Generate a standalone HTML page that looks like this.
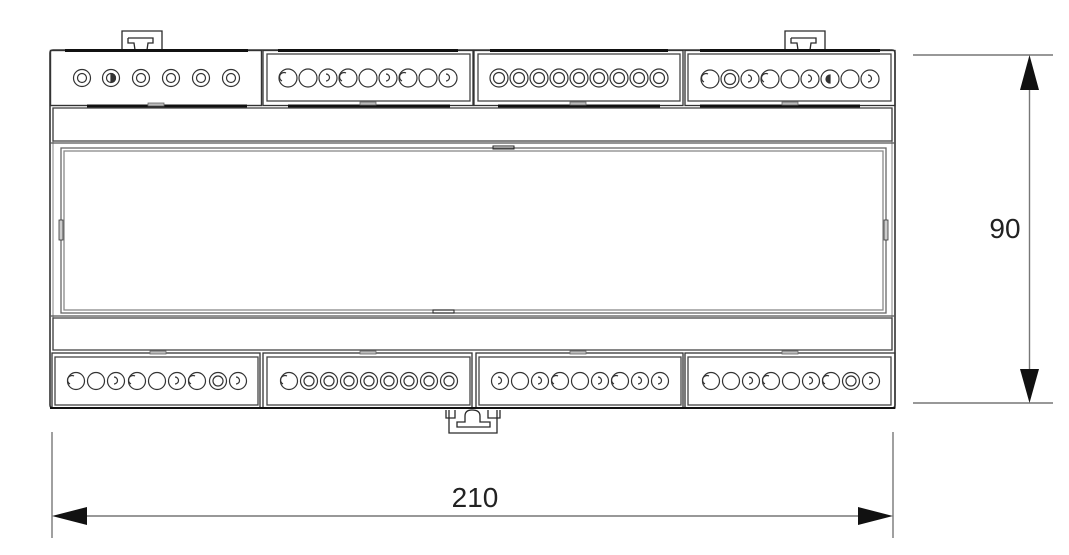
<!DOCTYPE html>
<html><head><meta charset="utf-8"><style>
html,body{margin:0;padding:0;background:#fff;}
svg{display:block;}
text{font-family:"Liberation Sans",Arial,sans-serif;fill:#222;}
</style></head><body>
<svg width="1069" height="555" viewBox="0 0 1069 555" xmlns="http://www.w3.org/2000/svg">
<g fill="none" stroke="#2a2a2a" stroke-width="1.3">
  <!-- top clips -->
  <path d="M122 50 V31 H162 V50"/>
  <path d="M128 38 H153 V43 H148 L147 50 M128 38 V43 H134 L135 50"/>
  <path d="M785 50 V31 H825 V50"/>
  <path d="M791 38 H816 V43 H811 L810 50 M791 38 V43 H797 L798 50"/>

  <!-- body outline -->
  <path d="M53 50 H892 Q895 50 895 53 V405 Q895 408 892 408 H53 Q50 408 50 405 V53 Q50 50 53 50 Z" stroke="#333" stroke-width="1.6"/>
  <path d="M53 108 V350 M892 108 V350" stroke="#999" stroke-width="1.2"/>

  <!-- top block 1 -->
  <rect x="50.5" y="50.5" width="211" height="55" stroke="#333" stroke-width="1.4"/>
  <line x1="65" y1="50.5" x2="248" y2="50.5" stroke="#111" stroke-width="3"/>
  <line x1="87" y1="106" x2="247" y2="106" stroke="#111" stroke-width="3"/>
  <rect x="148" y="103" width="16" height="3" fill="#bbb" stroke="#666" stroke-width="0.8"/>

  <!-- top block 2 -->
  <rect x="263" y="50.5" width="210" height="55" stroke="#333"/>
  <rect x="267" y="54" width="203" height="47" stroke="#444"/>
  <line x1="278" y1="50.5" x2="458" y2="50.5" stroke="#111" stroke-width="3"/>
  <line x1="288" y1="106" x2="450" y2="106" stroke="#111" stroke-width="3"/>
  <rect x="360" y="102" width="16" height="3" fill="#bbb" stroke="#666" stroke-width="0.8"/>

  <!-- top block 3 -->
  <rect x="474" y="50.5" width="209" height="55" stroke="#333"/>
  <rect x="478" y="54" width="202" height="47" stroke="#444"/>
  <line x1="490" y1="50.5" x2="668" y2="50.5" stroke="#111" stroke-width="3"/>
  <line x1="498" y1="106" x2="660" y2="106" stroke="#111" stroke-width="3"/>
  <rect x="570" y="102" width="16" height="3" fill="#bbb" stroke="#666" stroke-width="0.8"/>

  <!-- top block 4 -->
  <rect x="685" y="50.5" width="210" height="55" stroke="#333"/>
  <rect x="688" y="54" width="203" height="47" stroke="#444"/>
  <line x1="700" y1="50.5" x2="880" y2="50.5" stroke="#111" stroke-width="3"/>
  <line x1="700" y1="106" x2="860" y2="106" stroke="#111" stroke-width="3"/>
  <rect x="782" y="102" width="16" height="3" fill="#bbb" stroke="#666" stroke-width="0.8"/>

  <!-- band 1 -->
  <rect x="53" y="108" width="839" height="33" stroke="#444"/>
  <line x1="50" y1="143" x2="895" y2="143" stroke="#555"/>
  <!-- window -->
  <rect x="61" y="148" width="825" height="165" stroke="#666"/>
  <rect x="64" y="151" width="819" height="159" stroke="#888"/>
  <rect x="493" y="146" width="21" height="3" stroke="#222" stroke-width="1"/>
  <rect x="433" y="310" width="21" height="3" stroke="#222" stroke-width="1"/>
  <rect x="59" y="220" width="4" height="20" fill="#ccc" stroke="#333" stroke-width="0.8"/>
  <rect x="884" y="220" width="4" height="20" fill="#ccc" stroke="#333" stroke-width="0.8"/>
  <line x1="50" y1="316" x2="895" y2="316" stroke="#555"/>
  <!-- band 2 -->
  <rect x="53" y="318" width="839" height="32" stroke="#444"/>

  <!-- bottom blocks -->
  <rect x="52" y="353" width="208" height="55" stroke="#333"/>
  <rect x="55" y="357" width="203" height="48" stroke="#444"/>
  <rect x="263" y="353" width="209" height="55" stroke="#333"/>
  <rect x="267" y="357" width="203" height="48" stroke="#444"/>
  <rect x="476" y="353" width="207" height="55" stroke="#333"/>
  <rect x="479" y="357" width="202" height="48" stroke="#444"/>
  <rect x="685" y="353" width="210" height="55" stroke="#333"/>
  <rect x="688" y="357" width="203" height="48" stroke="#444"/>
  <line x1="50" y1="408" x2="895" y2="408" stroke="#111" stroke-width="2"/>
  <rect x="150" y="351" width="16" height="3" fill="#bbb" stroke="#666" stroke-width="0.8"/>
  <rect x="360" y="351" width="16" height="3" fill="#bbb" stroke="#666" stroke-width="0.8"/>
  <rect x="570" y="351" width="16" height="3" fill="#bbb" stroke="#666" stroke-width="0.8"/>
  <rect x="782" y="351" width="16" height="3" fill="#bbb" stroke="#666" stroke-width="0.8"/>

  <!-- bottom clip -->
  <path d="M449 410 V433 H497 V410"/>
  <path d="M446 410 V418 H455 V410 M488 410 V418 H500 V410"/>
  <path d="M457 422 H465 V416 Q465 410 472 410 Q480 410 480 416 V422 H490 V427 H457 Z"/>
</g>

<!-- terminal circles -->
<g fill="none" stroke="#333" stroke-width="1.2">
  <!-- top block 1 -->
  <circle cx="82" cy="78" r="8.5"/><circle cx="82" cy="78" r="4.5"/>
  <circle cx="111" cy="78" r="8.5"/><circle cx="111" cy="78" r="4.5"/><path d="M111 73.5 A4.5 4.5 0 0 1 111 82.5 Z" fill="#333"/>
  <circle cx="141" cy="78" r="8.5"/><circle cx="141" cy="78" r="4.5"/>
  <circle cx="171" cy="78" r="8.5"/><circle cx="171" cy="78" r="4.5"/>
  <circle cx="201" cy="78" r="8.5"/><circle cx="201" cy="78" r="4.5"/>
  <circle cx="231" cy="78" r="8.5"/><circle cx="231" cy="78" r="4.5"/>
</g>
<g fill="none" stroke="#333" stroke-width="1.2">
  <!-- top block 2 -->
  <g transform="translate(288,78)"><circle r="9"/><path d="M-6 3 A4 4 0 1 1 -2 -5"/></g>
  <g transform="translate(308,78)"><circle r="9"/></g>
  <g transform="translate(328,78)"><circle r="9"/><path d="M-2 -4 A3.5 3.5 0 1 1 -2 3"/></g>
  <g transform="translate(348,78)"><circle r="9"/><path d="M-6 3 A4 4 0 1 1 -2 -5"/></g>
  <g transform="translate(368,78)"><circle r="9"/></g>
  <g transform="translate(388,78)"><circle r="9"/><path d="M-2 -4 A3.5 3.5 0 1 1 -2 3"/></g>
  <g transform="translate(408,78)"><circle r="9"/><path d="M-6 3 A4 4 0 1 1 -2 -5"/></g>
  <g transform="translate(428,78)"><circle r="9"/></g>
  <g transform="translate(448,78)"><circle r="9"/><path d="M-2 -4 A3.5 3.5 0 1 1 -2 3"/></g>
  <!-- top block 3 -->
  <g transform="translate(499,78)"><circle r="9"/><circle r="5.5"/></g>
  <g transform="translate(519,78)"><circle r="9"/><circle r="5.5"/></g>
  <g transform="translate(539,78)"><circle r="9"/><circle r="5.5"/></g>
  <g transform="translate(559,78)"><circle r="9"/><circle r="5.5"/></g>
  <g transform="translate(579,78)"><circle r="9"/><circle r="5.5"/></g>
  <g transform="translate(599,78)"><circle r="9"/><circle r="5.5"/></g>
  <g transform="translate(619,78)"><circle r="9"/><circle r="5.5"/></g>
  <g transform="translate(639,78)"><circle r="9"/><circle r="5.5"/></g>
  <g transform="translate(659,78)"><circle r="9"/><circle r="5.5"/></g>
  <!-- top block 4 -->
  <g transform="translate(710,79)"><circle r="9"/><path d="M-6 3 A4 4 0 1 1 -2 -5"/></g>
  <g transform="translate(730,79)"><circle r="9"/><circle r="5.5"/></g>
  <g transform="translate(750,79)"><circle r="9"/><path d="M-2 -4 A3.5 3.5 0 1 1 -2 3"/></g>
  <g transform="translate(770,79)"><circle r="9"/><path d="M-6 3 A4 4 0 1 1 -2 -5"/></g>
  <g transform="translate(790,79)"><circle r="9"/></g>
  <g transform="translate(810,79)"><circle r="9"/><path d="M-2 -4 A3.5 3.5 0 1 1 -2 3"/></g>
  <g transform="translate(830,79)"><circle r="9"/><path d="M0 -4 A4 4 0 0 0 0 4 Z" fill="#333"/></g>
  <g transform="translate(850,79)"><circle r="9"/></g>
  <g transform="translate(870,79)"><circle r="9"/><path d="M-2 -4 A3.5 3.5 0 1 1 -2 3"/></g>

  <!-- bottom block 1 -->
  <g transform="translate(76,381)"><circle r="8.5"/><path d="M-6 3 A4 4 0 1 1 -2 -5"/></g>
  <g transform="translate(96,381)"><circle r="8.5"/></g>
  <g transform="translate(116,381)"><circle r="8.5"/><path d="M-2 -4 A3.5 3.5 0 1 1 -2 3"/></g>
  <g transform="translate(137,381)"><circle r="8.5"/><path d="M-6 3 A4 4 0 1 1 -2 -5"/></g>
  <g transform="translate(157,381)"><circle r="8.5"/></g>
  <g transform="translate(177,381)"><circle r="8.5"/><path d="M-2 -4 A3.5 3.5 0 1 1 -2 3"/></g>
  <g transform="translate(197,381)"><circle r="8.5"/><path d="M-6 3 A4 4 0 1 1 -2 -5"/></g>
  <g transform="translate(218,381)"><circle r="8.5"/><circle r="5"/></g>
  <g transform="translate(238,381)"><circle r="8.5"/><path d="M-2 -4 A3.5 3.5 0 1 1 -2 3"/></g>
  <!-- bottom block 2 -->
  <g transform="translate(289,381)"><circle r="8.5"/><path d="M-6 3 A4 4 0 1 1 -2 -5"/></g>
  <g transform="translate(309,381)"><circle r="8.5"/><circle r="5"/></g>
  <g transform="translate(329,381)"><circle r="8.5"/><circle r="5"/></g>
  <g transform="translate(349,381)"><circle r="8.5"/><circle r="5"/></g>
  <g transform="translate(369,381)"><circle r="8.5"/><circle r="5"/></g>
  <g transform="translate(389,381)"><circle r="8.5"/><circle r="5"/></g>
  <g transform="translate(409,381)"><circle r="8.5"/><circle r="5"/></g>
  <g transform="translate(429,381)"><circle r="8.5"/><circle r="5"/></g>
  <g transform="translate(449,381)"><circle r="8.5"/><circle r="5"/></g>
  <!-- bottom block 3 -->
  <g transform="translate(500,381)"><circle r="8.5"/><path d="M-2 -4 A3.5 3.5 0 1 1 -2 3"/></g>
  <g transform="translate(520,381)"><circle r="8.5"/></g>
  <g transform="translate(540,381)"><circle r="8.5"/><path d="M-2 -4 A3.5 3.5 0 1 1 -2 3"/></g>
  <g transform="translate(560,381)"><circle r="8.5"/><path d="M-6 3 A4 4 0 1 1 -2 -5"/></g>
  <g transform="translate(580,381)"><circle r="8.5"/></g>
  <g transform="translate(600,381)"><circle r="8.5"/><path d="M-2 -4 A3.5 3.5 0 1 1 -2 3"/></g>
  <g transform="translate(620,381)"><circle r="8.5"/><path d="M-6 3 A4 4 0 1 1 -2 -5"/></g>
  <g transform="translate(640,381)"><circle r="8.5"/><path d="M-2 -4 A3.5 3.5 0 1 1 -2 3"/></g>
  <g transform="translate(660,381)"><circle r="8.5"/><path d="M-2 -4 A3.5 3.5 0 1 1 -2 3"/></g>
  <!-- bottom block 4 -->
  <g transform="translate(711,381)"><circle r="8.5"/><path d="M-6 3 A4 4 0 1 1 -2 -5"/></g>
  <g transform="translate(731,381)"><circle r="8.5"/></g>
  <g transform="translate(751,381)"><circle r="8.5"/><path d="M-2 -4 A3.5 3.5 0 1 1 -2 3"/></g>
  <g transform="translate(771,381)"><circle r="8.5"/><path d="M-6 3 A4 4 0 1 1 -2 -5"/></g>
  <g transform="translate(791,381)"><circle r="8.5"/></g>
  <g transform="translate(811,381)"><circle r="8.5"/><path d="M-2 -4 A3.5 3.5 0 1 1 -2 3"/></g>
  <g transform="translate(831,381)"><circle r="8.5"/><path d="M-6 3 A4 4 0 1 1 -2 -5"/></g>
  <g transform="translate(851,381)"><circle r="8.5"/><circle r="5"/></g>
  <g transform="translate(871,381)"><circle r="8.5"/><path d="M-2 -4 A3.5 3.5 0 1 1 -2 3"/></g>
</g>

<!-- dimensions -->
<g stroke="#777" stroke-width="1.4" fill="none">
  <line x1="913" y1="55" x2="1053" y2="55"/>
  <line x1="913" y1="403" x2="1053" y2="403"/>
  <line x1="1029.5" y1="88" x2="1029.5" y2="370"/>
  <line x1="52" y1="432" x2="52" y2="538"/>
  <line x1="893" y1="432" x2="893" y2="538"/>
  <line x1="86" y1="516" x2="859" y2="516"/>
</g>
<g fill="#111">
  <polygon points="1029.5,55 1020,90 1039,90"/>
  <polygon points="1029.5,403 1020,369 1039,369"/>
  <polygon points="52,516 87,507 87,525"/>
  <polygon points="893,516 858,507 858,525"/>
</g>
<text x="1005" y="238" font-size="28" text-anchor="middle">90</text>
<text x="475" y="507" font-size="28" text-anchor="middle">210</text>
</svg>
</body></html>
